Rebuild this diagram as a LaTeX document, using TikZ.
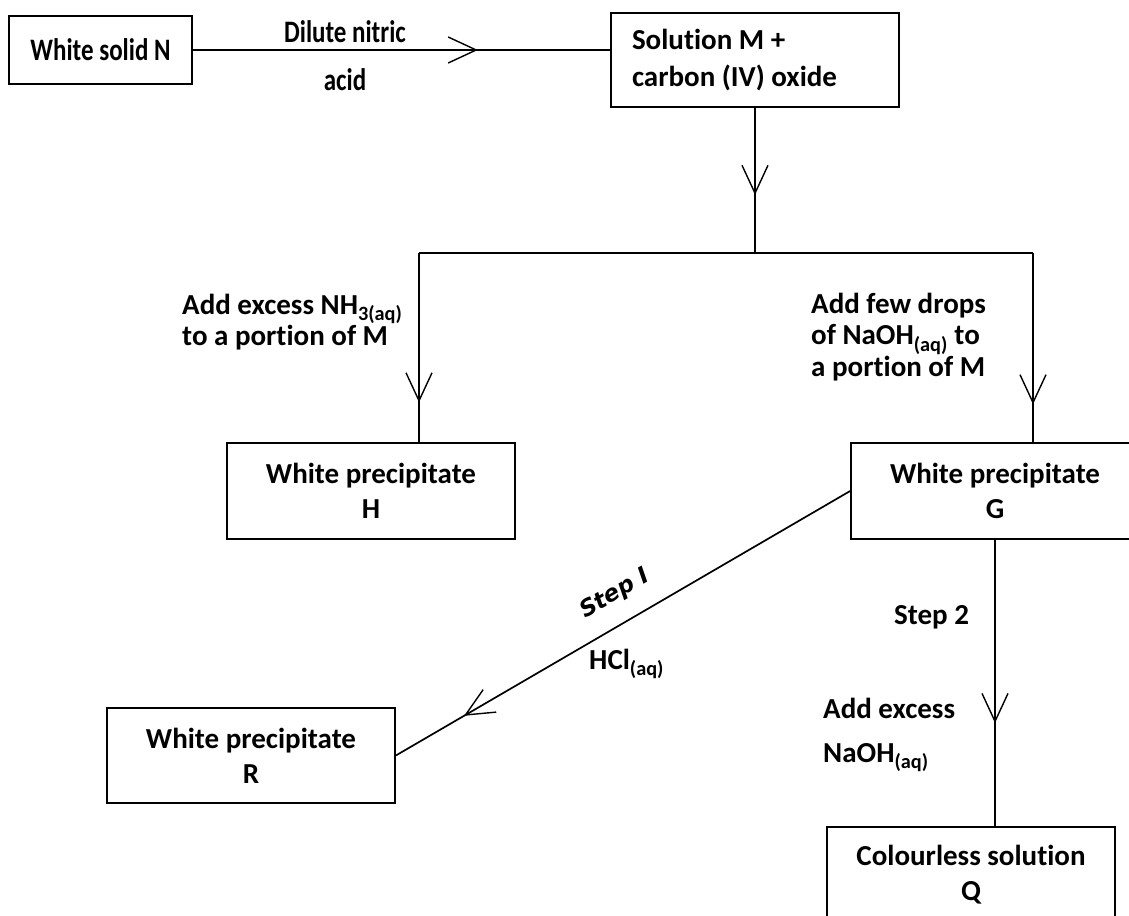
\documentclass[tikz,border=0pt]{standalone}
\usepackage{fontspec}
\setmainfont{Carlito}[Ligatures=NoCommon]
\newfontfamily\stepfont{DejaVu Sans}
\usetikzlibrary{arrows.meta,decorations.markings}
\newcommand{\tall}[1]{\scalebox{1}[1.25]{#1}}

\begin{document}
\begin{tikzpicture}[x=1pt,y=-1pt,
    box/.style={draw,line width=1.7pt,align=center,inner sep=0pt,minimum width=288pt,minimum height=96pt,font=\bfseries\fontsize{29}{35}\selectfont},
    lbl/.style={align=left,inner sep=0pt,anchor=west,font=\bfseries\fontsize{29}{31.5}\selectfont},
    flow/.style={line width=1.7pt},
    midarrow/.style={flow,postaction={decorate},decoration={markings,mark=at position #1 with {\arrow{Straight Barb[length=28pt,width=26pt,line width=1.4pt]}}}}]
		\useasboundingbox (0,0) rectangle (1129,915);

		\node[box,minimum width=183pt,minimum height=68pt,font=\bfseries\fontsize{25}{30}\selectfont] (N) at (100.5,50) {\tall{White solid N}};
		\node[box,minimum height=94pt,text width=246pt,inner xsep=21pt,align=flush left,font=\bfseries\fontsize{29}{37}\selectfont] (M) at (755,60) {Solution M +\\carbon (IV) oxide};
		\node[box] (H) at (371,491) {White precipitate\\H};
		\node[box] (G) at (995,491) {White precipitate\\G};
		\node[box,minimum height=95pt] (R) at (251,755.5) {White precipitate\\R};
		\node[box] (Q) at (971,875) {Colourless solution\\Q};

		\coordinate (j) at (755,253);
		\coordinate (jl) at (419,253);
		\coordinate (jr) at (1033,253);

		\draw[midarrow=0.683] (N.east) -- (N.east -| M.west);
		\draw[midarrow=0.6] (M.south) -- (j);
		\draw[flow] (jl) -- (jr);
		\draw[midarrow=0.79] (jl) -- (jl |- H.north);
		\draw[midarrow=0.8] (jr) -- (jr |- G.north);
		\draw[midarrow=0.85] (G.west) -- (R.east);
		\draw[midarrow=0.64] (G.south) -- (G.south |- Q.north);

		\node[lbl,anchor=center,font=\bfseries\fontsize{25}{30}\selectfont] (dil) at (345,32) {\tall{Dilute nitric}};
		\node[lbl,anchor=center,font=\bfseries\fontsize{25}{30}\selectfont] (acid) at (345,80) {\tall{acid}};
		\node[lbl] (nh3) at (182,322) {Add excess NH\textsubscript{3(aq)}\\to a portion of M};
		\node[lbl] (few) at (811,337) {Add few drops\\of NaOH\textsubscript{(aq)} to\\a portion of M};
		\node[lbl,anchor=center,rotate=30,font=\stepfont\bfseries\itshape\fontsize{23}{27}\selectfont] (s1) at (615,594) {Step I};
		\node[lbl] (hcl) at (589,664) {HCl\textsubscript{(aq)}};
		\node[lbl] (s2) at (894,617) {Step 2};
		\node[lbl,font=\bfseries\fontsize{29}{44}\selectfont] (exc) at (823,735) {Add excess\\NaOH\textsubscript{(aq)}};

	    \end{tikzpicture}
\end{document}
